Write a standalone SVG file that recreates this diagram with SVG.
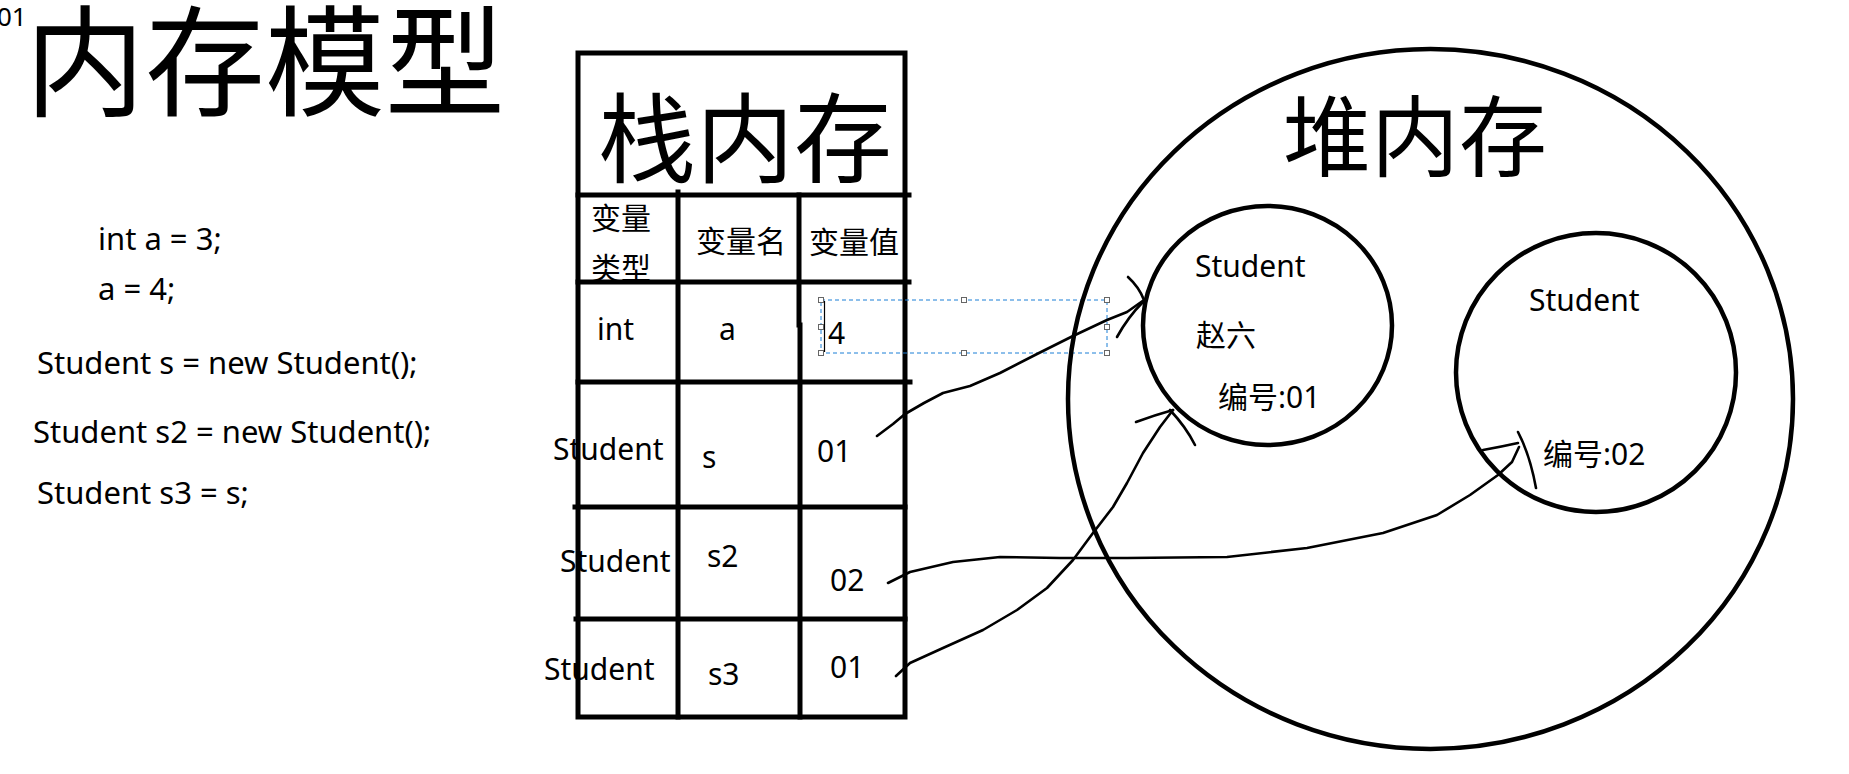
<svg xmlns="http://www.w3.org/2000/svg" width="1849" height="774" viewBox="0 0 1849 774">
<style>
  .bg { fill: #ffffff; }
  .t { font-family: "Noto Sans", "Noto Sans CJK SC", sans-serif; fill: #000; }
  .cjk { font-family: "Noto Sans CJK SC", "Noto Sans", sans-serif; fill: #000; }
  .s30 { font-size: 30px; }
  .code { font-size: 31px; }
  .grid { stroke: #000; stroke-width: 5; fill: none; stroke-linecap: square; }
  .circ { stroke: #000; stroke-width: 4.5; fill: none; }
  .ink { stroke: #000; stroke-width: 2.6; fill: none; stroke-linecap: round; stroke-linejoin: round; }
  .sel { stroke: #1a7fd6; stroke-width: 1; stroke-dasharray: 4 3; fill: none; }
  .handle { stroke: #666; stroke-width: 1; fill: #fff; }
</style>
<rect class="bg" x="0" y="0" width="1849" height="774"/>

<g id="title">
  <text class="t" x="-3" y="26" font-size="26">01</text>
  <text class="cjk" x="265" y="107" font-size="120" text-anchor="middle">内存模型</text>
</g>

<g id="code" class="t code">
  <text x="98" y="250">int a = 3;</text>
  <text x="98" y="300">a = 4;</text>
  <text x="37" y="374">Student s = new Student();</text>
  <text x="33" y="443">Student s2 = new Student();</text>
  <text x="37" y="504">Student s3 = s;</text>
</g>

<g id="stack">
  <rect class="grid" x="578" y="53" width="327" height="664"/>
  <line class="grid" x1="578" y1="195" x2="909" y2="195"/>
  <line class="grid" x1="578" y1="282" x2="909" y2="282"/>
  <line class="grid" x1="578" y1="382" x2="910" y2="382"/>
  <line class="grid" x1="575" y1="507" x2="905" y2="507"/>
  <line class="grid" x1="576" y1="619" x2="905" y2="619"/>
  <line class="grid" x1="678" y1="192" x2="678" y2="717"/>
  <line class="grid" x1="799" y1="195" x2="799" y2="325"/>
  <line class="grid" x1="800" y1="325" x2="800" y2="717"/>
  <text class="cjk" x="745" y="175" font-size="98" text-anchor="middle">栈内存</text>
  <text class="cjk s30" x="591" y="229">变量</text>
  <text class="cjk s30" x="591" y="279">类型</text>
  <text class="cjk s30" x="696" y="252">变量名</text>
  <text class="cjk s30" x="809" y="253">变量值</text>
  <text class="t s30" x="597" y="340">int</text>
  <text class="t s30" x="719" y="340">a</text>
  <text class="t s30" x="828" y="344">4</text>
  <text class="t s30" x="553" y="460">Student</text>
  <text class="t s30" x="702" y="468">s</text>
  <text class="t s30" x="817" y="462">01</text>
  <text class="t s30" x="560" y="572">Student</text>
  <text class="t s30" x="707" y="567">s2</text>
  <text class="t s30" x="830" y="591">02</text>
  <text class="t s30" x="544" y="680">Student</text>
  <text class="t s30" x="708" y="685">s3</text>
  <text class="t s30" x="830" y="678">01</text>
</g>

<g id="selection">
  <rect class="sel" x="821" y="300" width="286" height="53"/>
  <line x1="824.5" y1="301" x2="824.5" y2="352" stroke="#000" stroke-width="1.2"/>
  <rect class="handle" x="818.5" y="297.5" width="5" height="5"/>
  <rect class="handle" x="818.5" y="324.5" width="5" height="5"/>
  <rect class="handle" x="818.5" y="350.5" width="5" height="5"/>
  <rect class="handle" x="961.5" y="297.5" width="5" height="5"/>
  <rect class="handle" x="961.5" y="350.5" width="5" height="5"/>
  <rect class="handle" x="1104.5" y="297.5" width="5" height="5"/>
  <rect class="handle" x="1104.5" y="324.5" width="5" height="5"/>
  <rect class="handle" x="1104.5" y="350.5" width="5" height="5"/>
</g>

<g id="heap">
  <ellipse class="circ" cx="1430.5" cy="399" rx="362.5" ry="350"/>
  <text class="cjk" x="1415" y="169" font-size="88" text-anchor="middle">堆内存</text>
</g>

<g id="student1">
  <ellipse class="circ" cx="1267.5" cy="325.5" rx="124.5" ry="119.5"/>
  <text class="t s30" x="1195" y="277">Student</text>
  <text class="cjk s30" x="1196" y="346">赵六</text>
  <text class="t s30" x="1218" y="408">编号:01</text>
</g>

<g id="student2">
  <ellipse class="circ" cx="1596" cy="372.5" rx="140" ry="139.5"/>
  <text class="t s30" x="1529" y="311">Student</text>
  <text class="t s30" x="1543" y="465">编号:02</text>
</g>

<g id="connectors">
  <path class="ink" d="M877,436 L893,424 L905,414 L924,403 L943,393 L970,386 L1000,373 L1037,354 L1073,336 L1107,320 L1127,312 L1144,300"/>
  <path class="ink" d="M1128,277 Q1139,287 1144,300"/>
  <path class="ink" d="M1117,337 Q1128,317 1143,302"/>
  <path class="ink" d="M896,676 L910,663 L943,648 L983,630 L1017,610 L1047,588 L1073,560 L1093,533 L1113,507 L1127,483 L1143,453 L1160,427 L1173,410"/>
  <path class="ink" d="M1136,422 Q1155,415 1173,410"/>
  <path class="ink" d="M1170,410 Q1186,427 1195,445"/>
  <path class="ink" d="M888,583 L910,572 L953,562 L1000,557 L1060,558 L1127,558 L1227,557 L1307,548 L1383,533 L1437,515 L1470,495 L1498,475 L1512,462 L1519,447"/>
  <path class="ink" d="M1483,450 Q1500,447 1518,443"/>
  <path class="ink" d="M1518,432 Q1530,455 1536,488"/>
</g>
</svg>
